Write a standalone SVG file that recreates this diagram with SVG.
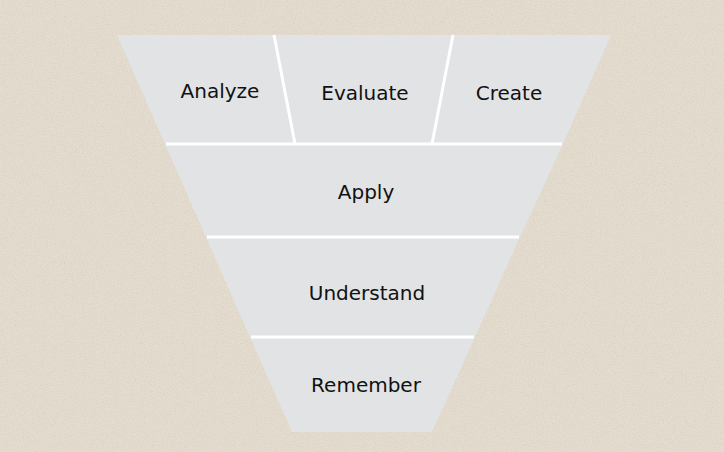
<svg xmlns="http://www.w3.org/2000/svg" width="724" height="452" viewBox="0 0 724 452">
<defs>
<filter id="grain" x="0" y="0" width="100%" height="100%">
<feTurbulence type="fractalNoise" baseFrequency="0.9" numOctaves="2" seed="3" result="n"/>
<feColorMatrix type="matrix" values="0 0 0 0 0.55  0 0 0 0 0.5  0 0 0 0 0.42  0 0 0 -2.2 1.25" in="n"/>
</filter>
</defs>
<style>
.seg{fill:#e2e3e4;}
.sep{stroke:#ffffff;stroke-width:3;fill:none;}
.lbl{font-family:"DejaVu Sans",sans-serif;font-size:20px;fill:#111111;text-anchor:middle;}
</style>
<rect width="724" height="452" fill="#e3dccf"/>
<rect width="724" height="452" filter="url(#grain)" opacity="0.35"/>
<g id="analyze"><polygon class="seg" points="117,35 274,35 295,144 165,144"/><text class="lbl" x="220" y="98">Analyze</text></g>
<g id="evaluate"><polygon class="seg" points="274,35 453,35 432,144 295,144"/><text class="lbl" x="365" y="100">Evaluate</text></g>
<g id="create"><polygon class="seg" points="453,35 611,35 563,144 432,144"/><text class="lbl" x="509" y="100">Create</text></g>
<g id="apply"><polygon class="seg" points="165,144 563,144 520,237 206,237"/><text class="lbl" x="366" y="199">Apply</text></g>
<g id="understand"><polygon class="seg" points="206,237 520,237 475,337 250,337"/><text class="lbl" x="367" y="300">Understand</text></g>
<g id="remember"><polygon class="seg" points="250,337 475,337 432,432 292,432"/><text class="lbl" x="366" y="392">Remember</text></g>
<g id="connectors">
<line class="sep" x1="166" y1="144" x2="562" y2="144"/>
<line class="sep" x1="207" y1="237" x2="519" y2="237"/>
<line class="sep" x1="251" y1="337" x2="474" y2="337"/>
<line class="sep" x1="274" y1="35" x2="295" y2="144"/>
<line class="sep" x1="453" y1="35" x2="432" y2="144"/>
</g>
</svg>
